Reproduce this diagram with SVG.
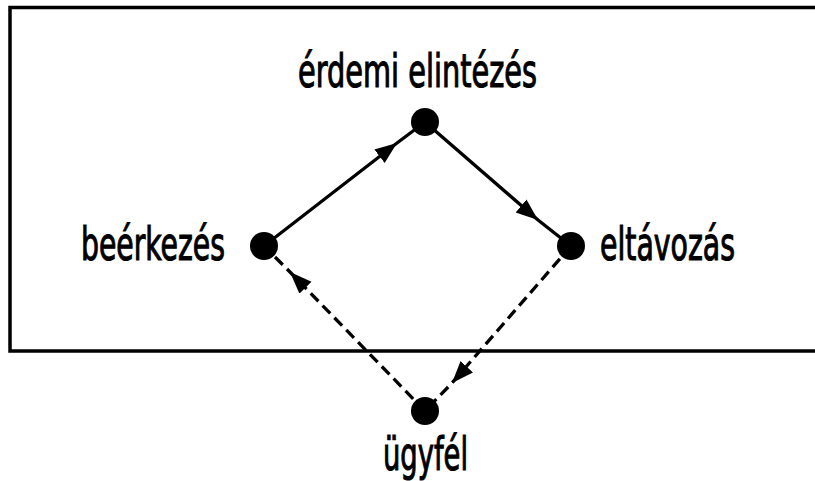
<svg xmlns="http://www.w3.org/2000/svg" width="815" height="481" viewBox="0 0 815 481">
<style>
.frame{fill:none;stroke:#000;stroke-width:3.5}
.edge{fill:none;stroke:#000;stroke-width:3.3}
.dash{stroke-dasharray:11 6}
.node{fill:#000}
.lbl{font-family:"Liberation Sans Narrow","DejaVu Sans Condensed","Liberation Sans",sans-serif;font-stretch:condensed;font-size:46px;fill:#000;stroke:#000;stroke-width:1.1}
</style>
<defs>
<marker id="arr" markerUnits="userSpaceOnUse" markerWidth="25" markerHeight="19" refX="22" refY="8.5" orient="auto">
<path d="M0,0 L22,8.5 L0,17 z" fill="#000"/>
</marker>
</defs>
<rect class="frame" x="10" y="7.5" width="830" height="343.5"/>
<g id="connectors">
<path class="edge" d="M264,246 L397,143 L425,122" marker-mid="url(#arr)"/>
<path class="edge" d="M425,122 L538,220 L571,246" marker-mid="url(#arr)"/>
<path class="edge dash" d="M425,411 L290,272 L264,246" marker-mid="url(#arr)"/>
<path class="edge dash" d="M571,246 L452,383 L425,411" marker-mid="url(#arr)"/>
</g>
<g id="node-erdemi">
<circle class="node" cx="425" cy="122" r="14"/>
<text class="lbl" x="298" y="87" textLength="239" lengthAdjust="spacingAndGlyphs">érdemi elintézés</text>
</g>
<g id="node-beerkezes">
<circle class="node" cx="264" cy="246" r="14"/>
<text class="lbl" x="81" y="260" textLength="144" lengthAdjust="spacingAndGlyphs">beérkezés</text>
</g>
<g id="node-eltavozas">
<circle class="node" cx="571" cy="246" r="14"/>
<text class="lbl" x="600" y="260" textLength="135" lengthAdjust="spacingAndGlyphs">eltávozás</text>
</g>
<g id="node-ugyfel">
<circle class="node" cx="425" cy="411" r="14"/>
<text class="lbl" x="383" y="470" textLength="85" lengthAdjust="spacingAndGlyphs">ügyfél</text>
</g>
</svg>
